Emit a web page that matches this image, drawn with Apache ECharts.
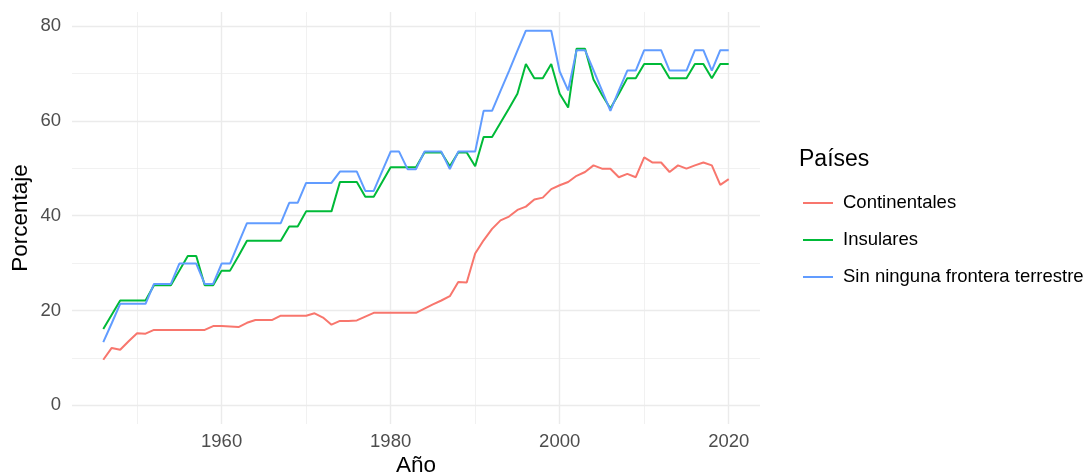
<!DOCTYPE html>
<html>
<head>
<meta charset="utf-8">
<script src="https://cdn.jsdelivr.net/npm/echarts@6/dist/echarts.min.js"></script>
<style>
  html, body { margin: 0; padding: 0; background: #fff; }
  #box { width: 1092px; height: 476px; }
</style>
</head>
<body>
<div id="box"></div>
<script>
// datos
var years = [
    1946, 1947, 1948, 1949, 1950, 1951, 1952, 1953, 1954, 1955,
    1956, 1957, 1958, 1959, 1960, 1961, 1962, 1963, 1964, 1965,
    1966, 1967, 1968, 1969, 1970, 1971, 1972, 1973, 1974, 1975,
    1976, 1977, 1978, 1979, 1980, 1981, 1982, 1983, 1984, 1985,
    1986, 1987, 1988, 1989, 1990, 1991, 1992, 1993, 1994, 1995,
    1996, 1997, 1998, 1999, 2000, 2001, 2002, 2003, 2004, 2005,
    2006, 2007, 2008, 2009, 2010, 2011, 2012, 2013, 2014, 2015,
    2016, 2017, 2018, 2019, 2020
];
var continentales = [
    9.6, 12.1, 11.7, 13.5, 15.2, 15.1, 15.9, 15.9, 15.9, 15.9,
    15.9, 15.9, 15.9, 16.7, 16.7, 16.6, 16.5, 17.4, 18.0, 18.0,
    18.0, 18.9, 18.9, 18.9, 18.9, 19.4, 18.5, 17.0, 17.8, 17.8,
    17.9, 18.7, 19.5, 19.5, 19.5, 19.5, 19.5, 19.5, 20.4, 21.3,
    22.1, 23.0, 26.0, 25.9, 32.0, 34.8, 37.2, 39.0, 39.8, 41.2,
    41.9, 43.4, 43.8, 45.6, 46.4, 47.1, 48.4, 49.2, 50.6, 49.9,
    49.9, 48.1, 48.8, 48.1, 52.3, 51.2, 51.2, 49.2, 50.6, 49.9,
    50.6, 51.2, 50.6, 46.5, 47.7
];
var insulares = [
    16.1, 19.1, 22.1, 22.1, 22.1, 22.1, 25.3, 25.3, 25.3, 28.4,
    31.5, 31.5, 25.3, 25.3, 28.4, 28.4, 31.5, 34.7, 34.7, 34.7,
    34.7, 34.7, 37.7, 37.7, 40.9, 40.9, 40.9, 40.9, 47.1, 47.1,
    47.1, 44.0, 44.0, 47.1, 50.2, 50.2, 50.2, 50.2, 53.3, 53.3,
    53.3, 50.4, 53.3, 53.3, 50.4, 56.6, 56.6, 59.6, 62.6, 65.7,
    72.0, 69.0, 69.0, 72.0, 65.7, 62.8, 75.2, 75.2, 68.7, 65.5,
    62.6, 65.7, 69.0, 69.0, 72.0, 72.0, 72.0, 69.0, 69.0, 69.0,
    72.0, 72.0, 69.0, 72.0, 72.0
];
var sinFrontera = [
    13.3, 17.3, 21.4, 21.4, 21.4, 21.4, 25.6, 25.6, 25.6, 29.9,
    29.9, 29.9, 25.6, 25.6, 29.9, 29.9, 34.2, 38.4, 38.4, 38.4,
    38.4, 38.4, 42.7, 42.7, 46.9, 46.9, 46.9, 46.9, 49.3, 49.3,
    49.3, 45.2, 45.2, 49.4, 53.5, 53.5, 49.8, 49.8, 53.5, 53.5,
    53.5, 49.8, 53.5, 53.5, 53.5, 62.1, 62.1, 66.3, 70.5, 74.8,
    79.0, 79.0, 79.0, 79.0, 70.4, 66.4, 74.9, 74.9, 70.7, 66.4,
    62.1, 66.4, 70.6, 70.6, 74.9, 74.9, 74.9, 70.6, 70.6, 70.6,
    74.9, 74.9, 70.6, 74.9, 74.9
];
var xTicks = [1960, 1980, 2000, 2020];
var xMinor = [1950, 1970, 1990, 2010];
var yTicks = [0, 20, 40, 60, 80];
var yMinor = [10, 30, 50, 70];

var names = ['Continentales', 'Insulares', 'Sin ninguna frontera terrestre'];
var colors = ['#F8766D', '#00BA38', '#619CFF'];
var values = [continentales, insulares, sinFrontera];

function pairs(v) {
    return years.map(function (y, i) { return [y, v[i]]; });
}

var majorLine = { color: '#ebebeb', width: 1.4, type: 'solid' };
var minorLine = { color: '#ebebeb', width: 0.7, type: 'solid' };
var gridLines = [];
xTicks.forEach(function (v) { gridLines.push({ xAxis: v, lineStyle: majorLine }); });
xMinor.forEach(function (v) { gridLines.push({ xAxis: v, lineStyle: minorLine }); });
yTicks.forEach(function (v) { gridLines.push({ yAxis: v, lineStyle: majorLine }); });
yMinor.forEach(function (v) { gridLines.push({ yAxis: v, lineStyle: minorLine }); });

var series = [{
    name: 'grid',
    type: 'line',
    data: [],
    silent: true,
    markLine: {
        silent: true,
        z: 1,
        symbol: ['none', 'none'],
        label: { show: false },
        emphasis: { disabled: true },
        animation: false,
        data: gridLines
    }
}];
names.forEach(function (n, i) {
    series.push({
        name: n,
        type: 'line',
        data: pairs(values[i]),
        symbol: 'none',
        z: 3,
        lineStyle: { color: colors[i], width: 2 },
        itemStyle: { color: colors[i] }
    });
});

var chart = echarts.init(document.getElementById('box'), null, { renderer: 'canvas' });
var option = {
    animation: false,
    backgroundColor: '#ffffff',
    textStyle: { fontFamily: 'Liberation Sans' },
    title: {
        text: 'Países',
        left: 794,
        top: 143,
        textStyle: { fontSize: 23, fontWeight: 'normal', color: '#000000', fontFamily: 'Liberation Sans' }
    },
    legend: {
        data: names,
        orient: 'vertical',
        left: 798,
        top: 188,
        icon: 'rect',
        itemWidth: 30,
        itemHeight: 2,
        itemGap: 17,
        textStyle: { fontSize: 18.5, color: '#000000', lineHeight: 20, padding: [0, 0, 0, 5], fontFamily: 'Liberation Sans' }
    },
    grid: { left: 72, right: 332, top: 12, bottom: 52, outerBoundsMode: 'none' },
    xAxis: {
        type: 'value',
        min: 1942.3,
        max: 2023.7,
        name: 'Año',
        nameLocation: 'middle',
        nameGap: 30,
        nameMoveOverlap: false,
        nameTextStyle: { fontSize: 22.5, color: '#000000' },
        axisLine: { show: false },
        axisTick: { show: false },
        splitLine: { show: false },
        axisLabel: {
            customValues: xTicks,
            fontSize: 18.5,
            color: '#4d4d4d',
            margin: 8,
            formatter: function (v) { return String(v); }
        }
    },
    yAxis: {
        type: 'value',
        min: -3.95,
        max: 82.95,
        name: 'Porcentaje',
        nameLocation: 'middle',
        nameGap: 40,
        nameMoveOverlap: false,
        nameTextStyle: { fontSize: 22.5, color: '#000000' },
        axisLine: { show: false },
        axisTick: { show: false },
        splitLine: { show: false },
        axisLabel: { customValues: yTicks, fontSize: 18.5, color: '#4d4d4d', margin: 11 }
    },
    series: series
};

option && chart.setOption(option);
</script>
</body>
</html>
